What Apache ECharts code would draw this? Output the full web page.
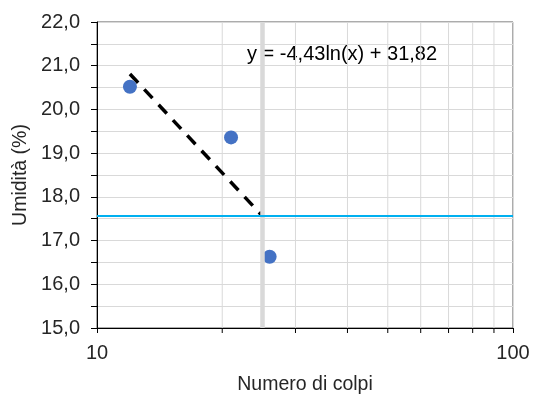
<!DOCTYPE html>
<html><head><meta charset="utf-8">
<script src="https://cdn.jsdelivr.net/npm/echarts@6/dist/echarts.min.js"></script>
<style>html,body{margin:0;padding:0;background:#fff}#c{width:534px;height:394px}</style>
</head><body><div id="c"></div>
<script>
const colpi = [12, 21, 26];
const umidita = [20.52, 19.36, 16.63];
const trendX = [12, 25];
const trendY = [20.81, 17.56];
const refX = 25;
const refY = 17.56;
const minorX = [20, 30, 40, 50, 60, 70, 80, 90];
const yMin = 15, yMax = 22;
const equation = 'y = -4,43ln(x) + 31,82';

const FONT = 'Liberation Sans, Arial, sans-serif';
const chart = echarts.init(document.getElementById('c'));
chart.setOption({
  animation: false,
  grid: {left: 97, right: 21, top: 22, bottom: 66, outerBoundsMode: 'none', containLabel: false,
    show: true, borderColor: '#595959', borderWidth: 1, backgroundColor: 'transparent'},
  xAxis: {
    type: 'log', logBase: 10, min: 10, max: 100,
    name: 'Numero di colpi', nameLocation: 'middle', nameGap: 47,
    nameTextStyle: {fontFamily: FONT, fontSize: 19.5, color: '#262626'},
    axisLine: {lineStyle: {color: '#000', width: 1}},
    axisTick: {show: true, length: 5, lineStyle: {color: '#000'}},
    axisLabel: {fontFamily: FONT, fontSize: 20, color: '#262626', margin: 15},
    splitLine: {show: true, lineStyle: {color: '#d9d9d9', width: 1}}
  },
  yAxis: {
    type: 'value', min: yMin, max: yMax, interval: 0.5,
    name: 'Umidità (%)', nameLocation: 'middle', nameGap: 63,
    nameTextStyle: {fontFamily: FONT, fontSize: 19.5, color: '#262626'},
    axisLine: {show: true, lineStyle: {color: '#000', width: 1}},
    axisTick: {show: true, length: 6, lineStyle: {color: '#000'}},
    axisLabel: {fontFamily: FONT, fontSize: 20, color: '#262626', margin: 17,
      formatter: v => Number.isInteger(v) ? v.toFixed(1).replace('.', ',') : ''},
    splitLine: {show: true, lineStyle: {color: '#d9d9d9', width: 1}}
  },
  graphic: [{type: 'text', left: 247, top: 44, style: {text: equation, fontFamily: FONT, fontSize: 20, fill: '#000'}}],
  series: [
    {
      type: 'custom', z: 1, silent: true, clip: false,
      data: minorX.map(v => [v]),
      renderItem: (params, api) => {
        const b = api.coord([api.value(0), yMin]);
        const t = api.coord([api.value(0), yMax]);
        return {type: 'group', children: [
          {type: 'line', shape: {x1: b[0], y1: t[1], x2: b[0], y2: b[1]}, style: {stroke: '#d9d9d9', lineWidth: 1}},
          {type: 'line', shape: {x1: b[0], y1: b[1], x2: b[0], y2: b[1] + 5}, style: {stroke: '#000', lineWidth: 1}}
        ]};
      }
    },
    {
      type: 'line', z: 2, symbol: 'none', silent: true, data: [],
      markLine: {symbol: 'none', silent: true, label: {show: false},
        data: [
          {xAxis: refX, lineStyle: {color: '#d9d9d9', width: 4.5, type: 'solid'}},
          {yAxis: refY, lineStyle: {color: '#00b0f0', width: 2, type: 'solid'}}
        ]}
    },
    {
      type: 'line', z: 3, symbol: 'none', silent: true,
      data: trendX.map((x, i) => [x, trendY[i]]),
      lineStyle: {color: '#000', width: 3.5, type: [12, 9]}
    },
    {
      type: 'scatter', z: 4, symbolSize: 14,
      itemStyle: {color: '#4472c4', opacity: 1},
      data: colpi.map((x, i) => [x, umidita[i]])
    }
  ]
});
</script></body></html>
